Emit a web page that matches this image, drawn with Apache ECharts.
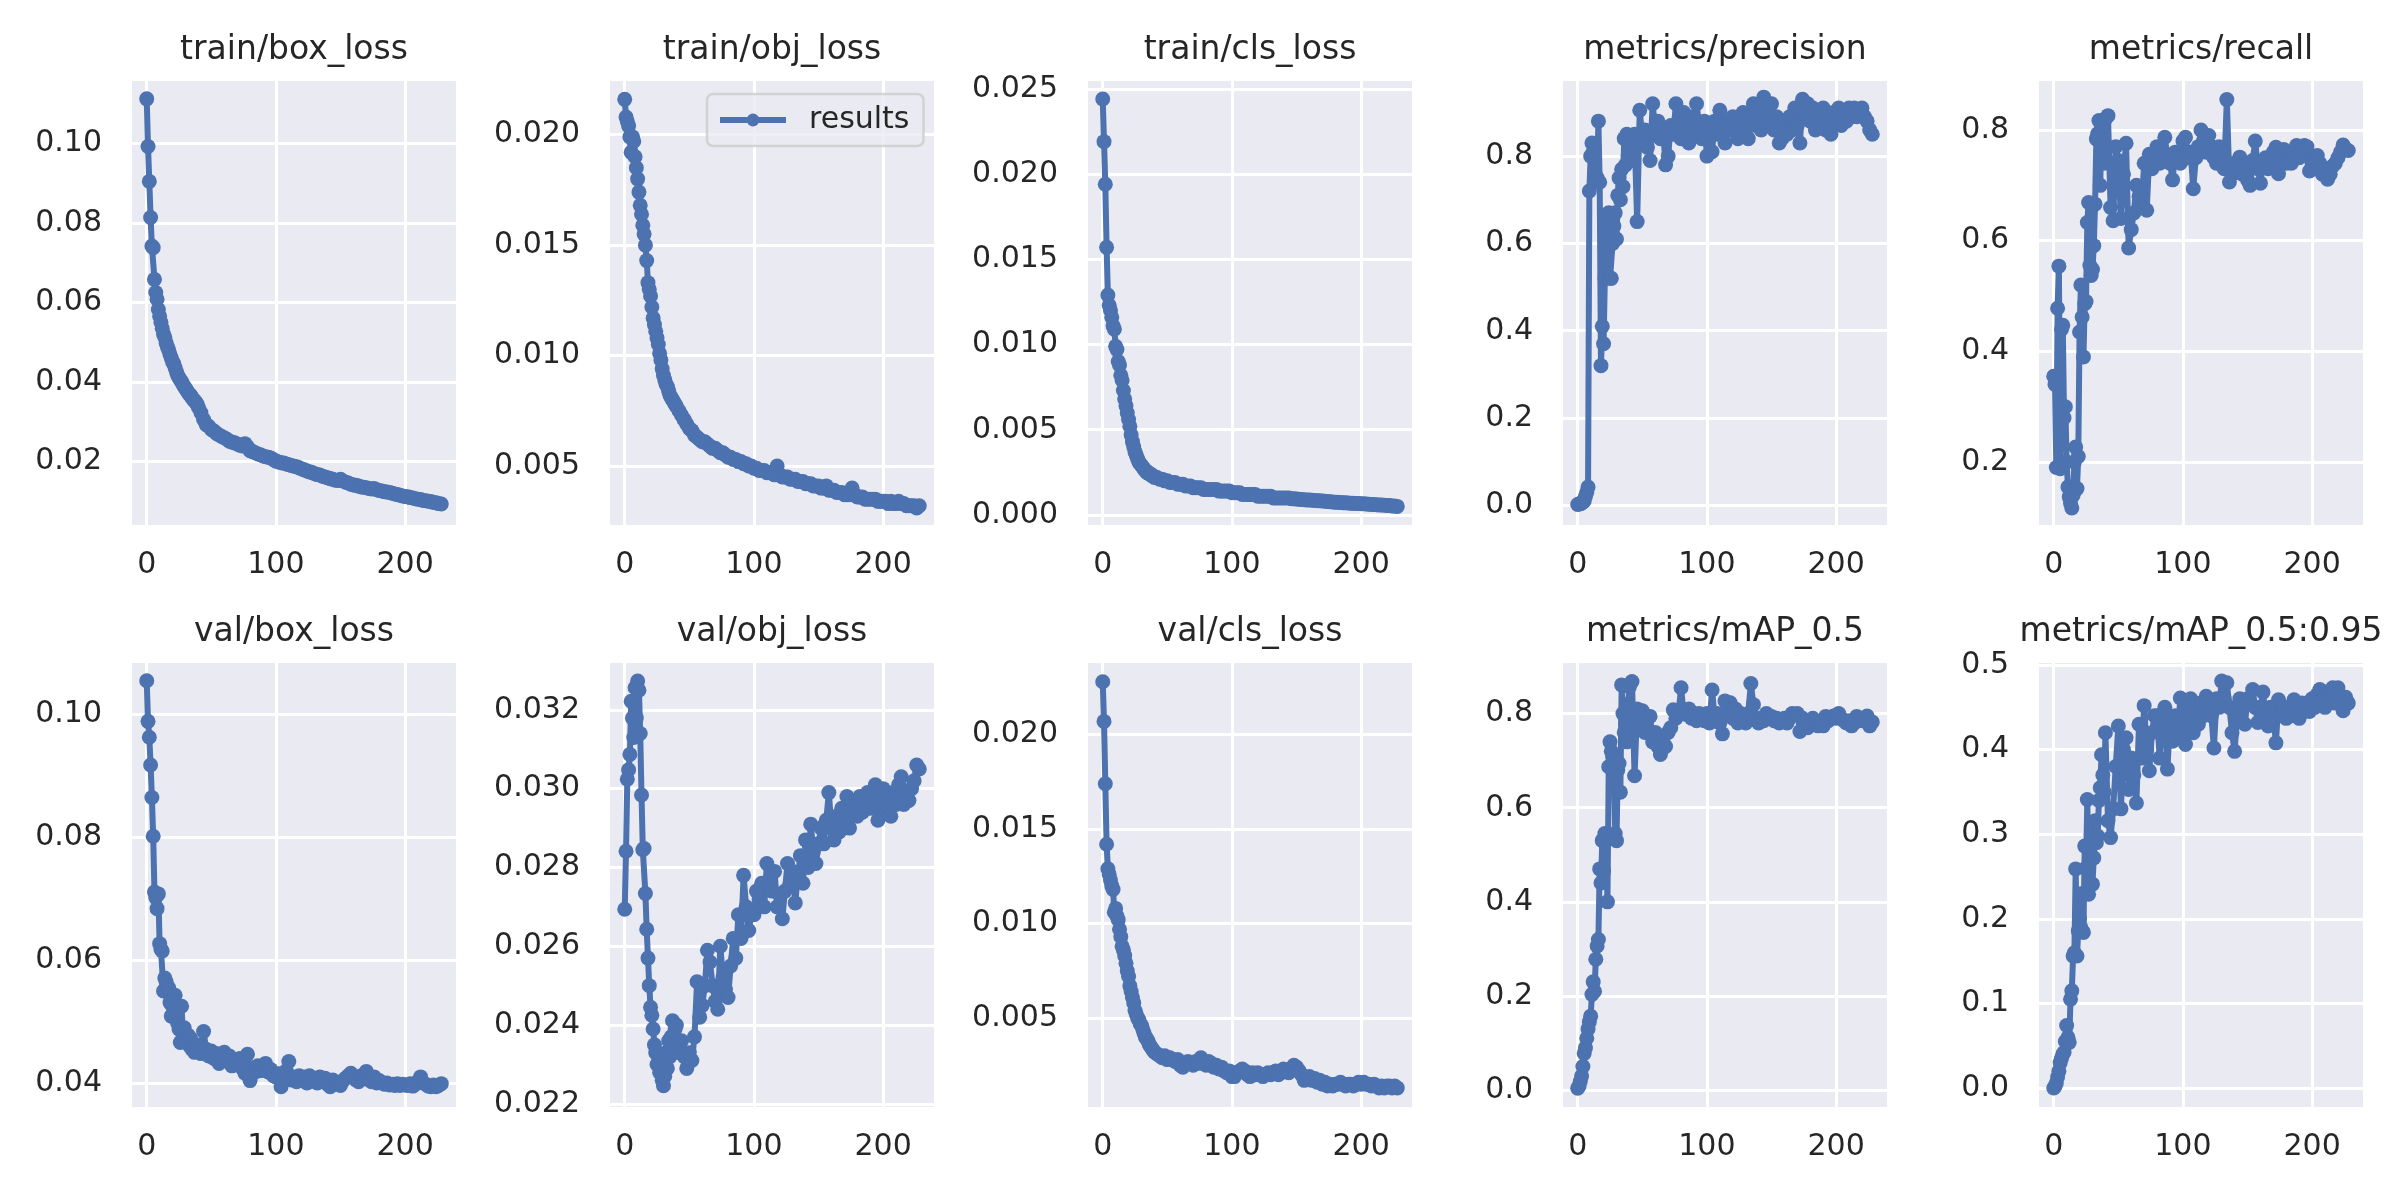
<!DOCTYPE html>
<html lang="en">
<head>
  <meta charset="UTF-8">
  <title>results</title>
  <script src="https://cdn.jsdelivr.net/npm/echarts@6/dist/echarts.min.js"></script>
  <style>html,body{margin:0;padding:0;background:#fff;}</style>
</head>
<body>
<!-- one container, ten small grids inside -->
<div id="box" style="width: 2400px;height: 1200px;"></div>
<script>
  // epochs: every epoch up to 39, then every second one
  var epochs = [0,1,2,3,4,5,6,7,8,9,
    10,11,12,13,14,15,16,17,18,19,
    20,21,22,23,24,25,26,27,28,29,
    30,31,32,33,34,35,36,37,38,39,
    40,42,44,46,48,50,52,54,56,58,
    60,62,64,66,68,70,72,74,76,78,
    80,82,84,86,88,90,92,94,96,98,
    100,102,104,106,108,110,112,114,116,118,
    120,122,124,126,128,130,132,134,136,138,
    140,142,144,146,148,150,152,154,156,158,
    160,162,164,166,168,170,172,174,176,178,
    180,182,184,186,188,190,192,194,196,198,
    200,202,204,206,208,210,212,214,216,218,
    220,222,224,226,228];

  var trainBox = [0.1113,0.0993,0.0905,0.0814,0.0742,0.0738,0.0658,0.0625,0.0608,0.0582,
    0.0565,0.0550,0.0535,0.0520,0.0512,0.0498,0.0488,0.0480,0.0469,0.0460,
    0.0450,0.0445,0.0435,0.0425,0.0416,0.0410,0.0405,0.0400,0.0393,0.0388,
    0.0383,0.0378,0.0373,0.0368,0.0366,0.0360,0.0355,0.0352,0.0348,0.0344,
    0.0335,0.0322,0.0305,0.0292,0.0288,0.0280,0.0276,0.0270,0.0266,0.0262,
    0.0259,0.0255,0.0250,0.0248,0.0246,0.0243,0.0240,0.0238,0.0244,0.0236,
    0.0226,0.0224,0.0221,0.0218,0.0216,0.0213,0.0211,0.0210,0.0208,0.0204,
    0.0200,0.0198,0.0196,0.0195,0.0193,0.0191,0.0189,0.0187,0.0186,0.0183,
    0.0180,0.0178,0.0175,0.0173,0.0171,0.0168,0.0166,0.0165,0.0162,0.0160,
    0.0158,0.0156,0.0154,0.0152,0.0151,0.0154,0.0150,0.0147,0.0145,0.0142,
    0.0140,0.0139,0.0137,0.0135,0.0134,0.0133,0.0131,0.0130,0.0131,0.0128,
    0.0126,0.0125,0.0123,0.0122,0.0121,0.0119,0.0117,0.0116,0.0114,0.0112,
    0.0111,0.0110,0.0108,0.0107,0.0105,0.0104,0.0103,0.0101,0.0100,0.0099,
    0.0098,0.0096,0.0095,0.0093,0.0092];

  var trainObj = [0.0216,0.0208,0.0206,0.0204,0.0199,0.0192,0.0199,0.0197,0.0190,0.0185,
    0.0180,0.0174,0.0168,0.0164,0.0159,0.0155,0.0150,0.0143,0.0133,0.0130,
    0.0127,0.0122,0.0117,0.0114,0.0111,0.0108,0.0105,0.0101,0.0098,0.0094,
    0.0091,0.0089,0.0087,0.0086,0.0084,0.0082,0.0081,0.0080,0.0079,0.0078,
    0.0077,0.0075,0.0073,0.0071,0.0069,0.0067,0.0066,0.0064,0.0063,0.0062,
    0.0061,0.0061,0.0060,0.0059,0.0058,0.0058,0.0057,0.0056,0.0056,0.0055,
    0.0054,0.0054,0.0053,0.0053,0.0052,0.0052,0.0051,0.0051,0.0050,0.0050,
    0.0049,0.0049,0.0048,0.0048,0.0048,0.0047,0.0047,0.0047,0.0046,0.0050,
    0.0046,0.0045,0.0045,0.0045,0.0044,0.0044,0.0044,0.0043,0.0043,0.0043,
    0.0042,0.0042,0.0042,0.0041,0.0041,0.0041,0.0040,0.0040,0.0041,0.0039,
    0.0039,0.0039,0.0038,0.0038,0.0038,0.0037,0.0037,0.0037,0.0040,0.0037,
    0.0036,0.0036,0.0036,0.0035,0.0035,0.0035,0.0035,0.0035,0.0034,0.0034,
    0.0034,0.0034,0.0033,0.0034,0.0033,0.0033,0.0034,0.0033,0.0033,0.0032,
    0.0032,0.0032,0.0032,0.0031,0.0032];

  var trainCls = [0.0244,0.0219,0.0194,0.0157,0.0129,0.0123,0.0120,0.0116,0.0111,0.0109,
    0.0099,0.0097,0.0090,0.0088,0.0082,0.0079,0.0073,0.0068,0.0064,0.0060,
    0.0056,0.0052,0.0047,0.0043,0.0040,0.0037,0.0035,0.0033,0.0031,0.0030,
    0.0029,0.0028,0.0027,0.0026,0.0025,0.0025,0.0024,0.0024,0.0023,0.0023,
    0.0022,0.0022,0.0021,0.0021,0.0020,0.0020,0.0019,0.0019,0.0019,0.0018,
    0.0018,0.0018,0.0017,0.0017,0.0017,0.0016,0.0016,0.0016,0.0016,0.0015,
    0.0015,0.0015,0.0015,0.0015,0.0015,0.0014,0.0014,0.0014,0.0014,0.0014,
    0.0013,0.0013,0.0013,0.0013,0.0012,0.0012,0.0012,0.0012,0.0012,0.0012,
    0.0011,0.0011,0.0011,0.0011,0.0011,0.0011,0.0010,0.0010,0.0010,0.0010,
    0.0010,0.0010,0.0010,0.00095,0.00095,0.00093,0.00092,0.00090,0.00089,0.00088,
    0.00088,0.00086,0.00085,0.00084,0.00083,0.00082,0.00080,0.00079,0.00077,0.00076,
    0.00075,0.00074,0.00073,0.00072,0.00071,0.00070,0.00069,0.00068,0.00067,0.00067,
    0.00066,0.00065,0.00064,0.00063,0.00062,0.00061,0.00060,0.00059,0.00058,0.00057,
    0.00056,0.00055,0.00053,0.00052,0.00050];

  var precision = [0.002,0.003,0.004,0.005,0.008,0.010,0.020,0.030,0.042,0.720,
    0.800,0.830,0.810,0.760,0.740,0.750,0.880,0.740,0.320,0.410,
    0.370,0.520,0.650,0.610,0.670,0.520,0.520,0.600,0.640,0.670,
    0.610,0.710,0.750,0.700,0.770,0.730,0.840,0.780,0.850,0.800,
    0.830,0.790,0.850,0.650,0.905,0.840,0.860,0.820,0.790,0.920,
    0.860,0.880,0.840,0.860,0.780,0.800,0.870,0.850,0.920,0.880,
    0.840,0.900,0.860,0.830,0.890,0.850,0.920,0.870,0.840,0.880,
    0.800,0.860,0.810,0.880,0.850,0.905,0.870,0.830,0.880,0.860,
    0.890,0.860,0.840,0.880,0.900,0.860,0.840,0.900,0.920,0.870,
    0.900,0.860,0.935,0.900,0.880,0.920,0.860,0.890,0.830,0.840,
    0.880,0.850,0.890,0.860,0.910,0.870,0.830,0.930,0.900,0.920,
    0.880,0.910,0.860,0.900,0.870,0.910,0.860,0.890,0.850,0.900,
    0.880,0.910,0.870,0.900,0.880,0.910,0.890,0.910,0.890,0.900,
    0.910,0.890,0.880,0.860,0.850];

  var recall = [0.355,0.340,0.190,0.478,0.554,0.188,0.440,0.447,0.280,0.300,
    0.200,0.155,0.137,0.125,0.117,0.140,0.200,0.227,0.152,0.210,
    0.435,0.520,0.462,0.390,0.486,0.490,0.633,0.669,0.555,0.537,
    0.548,0.591,0.666,0.784,0.793,0.817,0.700,0.805,0.760,0.740,
    0.820,0.826,0.660,0.636,0.770,0.745,0.640,0.720,0.776,0.587,
    0.620,0.650,0.700,0.680,0.660,0.740,0.655,0.756,0.730,0.750,
    0.770,0.740,0.760,0.787,0.750,0.740,0.710,0.760,0.750,0.740,
    0.780,0.787,0.750,0.760,0.694,0.750,0.770,0.800,0.780,0.760,
    0.790,0.770,0.750,0.740,0.770,0.760,0.730,0.855,0.706,0.720,
    0.740,0.730,0.751,0.720,0.740,0.710,0.700,0.745,0.780,0.730,
    0.704,0.740,0.750,0.730,0.740,0.760,0.769,0.721,0.750,0.765,
    0.740,0.750,0.740,0.760,0.772,0.750,0.760,0.772,0.770,0.726,
    0.740,0.750,0.754,0.740,0.720,0.730,0.711,0.720,0.735,0.740,
    0.750,0.760,0.773,0.765,0.763];

  var valBox = [0.1055,0.0989,0.0963,0.0918,0.0865,0.0802,0.0711,0.0702,0.0684,0.0708,
    0.0627,0.0618,0.0615,0.0550,0.0571,0.0565,0.0548,0.0555,0.0531,0.0509,
    0.0525,0.0512,0.0543,0.0503,0.0497,0.0488,0.0466,0.0525,0.0478,0.0490,
    0.0472,0.0468,0.0478,0.0461,0.0473,0.0455,0.0464,0.0450,0.0458,0.0452,
    0.0462,0.0448,0.0484,0.0455,0.0444,0.0452,0.0440,0.0448,0.0432,0.0445,
    0.0450,0.0436,0.0444,0.0428,0.0438,0.0430,0.0440,0.0424,0.0416,0.0447,
    0.0404,0.0425,0.0418,0.0428,0.0420,0.0426,0.0432,0.0418,0.0422,0.0412,
    0.0410,0.0415,0.0394,0.0408,0.0420,0.0435,0.0405,0.0410,0.0402,0.0412,
    0.0405,0.0410,0.0400,0.0412,0.0404,0.0408,0.0400,0.0410,0.0403,0.0408,
    0.0398,0.0394,0.0405,0.0398,0.0400,0.0396,0.0404,0.0408,0.0412,0.0416,
    0.0410,0.0405,0.0402,0.0412,0.0408,0.0419,0.0405,0.0402,0.0410,0.0400,
    0.0404,0.0400,0.0398,0.0400,0.0397,0.0398,0.0396,0.0399,0.0396,0.0398,
    0.0397,0.0396,0.0399,0.0395,0.0398,0.0403,0.0410,0.0400,0.0398,0.0395,
    0.0394,0.0397,0.0394,0.0396,0.0399];

  var valObj = [0.02694,0.02841,0.03024,0.03048,0.03087,0.03222,0.03179,0.03130,0.03256,0.03180,
    0.03273,0.03250,0.03140,0.02984,0.02845,0.02848,0.02734,0.02643,0.02570,0.02500,
    0.02445,0.02425,0.02390,0.02350,0.02330,0.02300,0.02320,0.02280,0.02300,0.02260,
    0.02246,0.02270,0.02330,0.02290,0.02360,0.02320,0.02370,0.02411,0.02350,0.02390,
    0.0240,0.0233,0.0236,0.0232,0.0229,0.0233,0.0231,0.0237,0.0251,0.0242,
    0.0245,0.0250,0.0259,0.0256,0.0250,0.0246,0.0244,0.0260,0.0252,0.0249,
    0.0247,0.0255,0.0262,0.0257,0.0268,0.0262,0.0278,0.0270,0.0264,0.0268,
    0.0268,0.0274,0.0272,0.0276,0.0270,0.0281,0.0276,0.0274,0.0279,0.0270,
    0.0273,0.0267,0.0274,0.0281,0.0276,0.0279,0.0271,0.0278,0.0283,0.0276,
    0.0287,0.0280,0.0291,0.0284,0.0281,0.0286,0.0290,0.0286,0.0292,0.0299,
    0.0290,0.0287,0.0293,0.0289,0.0295,0.0291,0.0298,0.0290,0.0294,0.0297,
    0.0293,0.0298,0.0294,0.0296,0.0299,0.0295,0.0298,0.0301,0.0292,0.0296,
    0.0300,0.0295,0.0299,0.0293,0.0298,0.0296,0.0301,0.0303,0.0296,0.0299,
    0.0297,0.0300,0.0302,0.0306,0.0305];

  var valCls = [0.0228,0.0207,0.0174,0.0142,0.0129,0.0126,0.0123,0.0120,0.0118,0.0106,
    0.0108,0.0104,0.0102,0.0097,0.0093,0.0088,0.0086,0.0083,0.0079,0.0075,
    0.0072,0.0067,0.0064,0.0061,0.0058,0.0054,0.0052,0.0050,0.0049,0.0047,
    0.0046,0.0044,0.0042,0.0040,0.0039,0.0038,0.0036,0.0035,0.0034,0.0033,
    0.0032,0.0031,0.0030,0.0029,0.0030,0.0028,0.0029,0.0028,0.0027,0.0028,
    0.0025,0.0024,0.0026,0.0027,0.0026,0.0025,0.0027,0.0026,0.0029,0.0026,
    0.0025,0.0027,0.0026,0.0024,0.0025,0.0023,0.0024,0.0022,0.0021,0.0022,
    0.0019,0.0019,0.0021,0.0022,0.0023,0.0022,0.0020,0.0019,0.0021,0.0020,
    0.0021,0.0020,0.0019,0.0020,0.0021,0.0020,0.0021,0.0022,0.0020,0.0021,
    0.0023,0.0022,0.0021,0.0023,0.0025,0.0024,0.0022,0.0020,0.0017,0.0018,
    0.0019,0.0017,0.0018,0.0016,0.0017,0.0015,0.0016,0.0014,0.0015,0.0014,
    0.0015,0.0015,0.0016,0.0015,0.0014,0.0015,0.0015,0.0014,0.0015,0.0016,
    0.0015,0.0016,0.0015,0.0015,0.0014,0.0015,0.0014,0.0013,0.0014,0.0013,
    0.0014,0.0014,0.0013,0.0014,0.0013];

  var map50 = [0.004,0.008,0.018,0.030,0.050,0.078,0.090,0.110,0.130,0.145,
    0.157,0.203,0.230,0.210,0.278,0.306,0.320,0.470,0.440,0.530,
    0.466,0.545,0.540,0.400,0.687,0.740,0.720,0.708,0.690,0.545,
    0.530,0.680,0.694,0.633,0.861,0.800,0.760,0.780,0.740,0.820,
    0.857,0.868,0.668,0.810,0.770,0.806,0.760,0.790,0.794,0.740,
    0.760,0.730,0.713,0.740,0.730,0.760,0.770,0.808,0.790,0.800,
    0.855,0.800,0.798,0.810,0.790,0.800,0.785,0.800,0.790,0.785,
    0.800,0.780,0.850,0.790,0.800,0.780,0.757,0.827,0.800,0.823,
    0.790,0.810,0.780,0.800,0.790,0.780,0.800,0.864,0.819,0.790,
    0.780,0.790,0.785,0.800,0.790,0.794,0.785,0.790,0.780,0.785,
    0.790,0.780,0.790,0.800,0.798,0.800,0.762,0.790,0.785,0.770,
    0.780,0.790,0.785,0.774,0.780,0.774,0.794,0.785,0.790,0.795,
    0.790,0.800,0.790,0.785,0.780,0.785,0.774,0.780,0.794,0.790,
    0.785,0.790,0.795,0.774,0.782];

  var map5095 = [0.000,0.002,0.006,0.013,0.020,0.030,0.035,0.040,0.042,0.055,
    0.074,0.060,0.054,0.105,0.115,0.156,0.160,0.259,0.156,0.186,
    0.200,0.190,0.230,0.184,0.286,0.260,0.341,0.229,0.280,0.300,
    0.241,0.272,0.316,0.290,0.298,0.340,0.355,0.394,0.370,0.350,
    0.420,0.316,0.296,0.330,0.380,0.428,0.330,0.400,0.414,0.353,
    0.390,0.370,0.337,0.430,0.390,0.452,0.400,0.375,0.420,0.440,
    0.440,0.390,0.430,0.450,0.377,0.434,0.410,0.440,0.420,0.461,
    0.430,0.406,0.450,0.460,0.420,0.450,0.430,0.455,0.440,0.463,
    0.450,0.440,0.402,0.460,0.450,0.481,0.460,0.479,0.450,0.420,
    0.398,0.440,0.460,0.450,0.430,0.460,0.455,0.471,0.450,0.432,
    0.450,0.468,0.440,0.428,0.450,0.440,0.408,0.459,0.440,0.450,
    0.437,0.450,0.440,0.459,0.450,0.437,0.455,0.450,0.455,0.445,
    0.460,0.450,0.465,0.471,0.460,0.450,0.468,0.460,0.473,0.455,
    0.473,0.462,0.446,0.462,0.455];

  var titles = ['train/box_loss', 'train/obj_loss', 'train/cls_loss', 'metrics/precision', 'metrics/recall',
    'val/box_loss', 'val/obj_loss', 'val/cls_loss', 'metrics/mAP_0.5', 'metrics/mAP_0.5:0.95'];

  // y axis extents, tick step and label decimals per panel
  var yMin = [0.0039, 0.00233, -0.00059, -0.045, 0.0862, 0.0361, 0.02192, 0.00029, -0.036, -0.0224];
  var yMax = [0.1158, 0.02243, 0.02546, 0.972, 0.8886, 0.1084, 0.03319, 0.02379, 0.9075, 0.5024];
  var yStep = [0.02, 0.005, 0.005, 0.2, 0.2, 0.02, 0.002, 0.005, 0.2, 0.1];
  var yDigits = [2, 3, 3, 1, 1, 2, 3, 3, 1, 1];
  var xMin = -11.4, xMax = 239.4, xStep = 100;

  var seriesValues = [trainBox, trainObj, trainCls, precision, recall, valBox, valObj, valCls, map50, map5095];

  var font = "'DejaVu Sans', sans-serif";
  var ink = '#262626';
  var blue = '#4C72B0';
  var colLeft = [132, 610, 1088, 1563, 2039];
  var rowTop = [81, 663];
  var titleTop = [34, 616];
  var plotW = 324, plotH = 444;

  function fmt(d) { return function (v) { return v.toFixed(d); }; }

  var grids = [], xAxes = [], yAxes = [], series = [], titleList = [];
  for (var i = 0; i < 10; i++) {
    var col = i % 5, row = Math.floor(i / 5);
    grids.push({
      left: colLeft[col], top: rowTop[row], width: plotW, height: plotH,
      show: true, backgroundColor: '#EAEAF2', borderWidth: 0,
      containLabel: false, outerBoundsMode: 'none'
    });
    xAxes.push({
      type: 'value', gridIndex: i, min: xMin, max: xMax,
      minInterval: xStep, maxInterval: xStep,
      axisLine: {show: false}, axisTick: {show: false},
      axisLabel: {margin: 25, fontSize: 30, fontFamily: font, color: ink, showMinLabel: false, showMaxLabel: false},
      splitLine: {show: true, showMinLine: false, showMaxLine: false, lineStyle: {color: '#ffffff', width: 3}}
    });
    yAxes.push({
      type: 'value', gridIndex: i, min: yMin[i], max: yMax[i],
      minInterval: yStep[i], maxInterval: yStep[i],
      axisLine: {show: false}, axisTick: {show: false},
      axisLabel: {margin: 30, fontSize: 30, fontFamily: font, color: ink, showMinLabel: false, showMaxLabel: false,
        formatter: fmt(yDigits[i])},
      splitLine: {show: true, showMinLine: false, showMaxLine: false, lineStyle: {color: '#ffffff', width: 3}}
    });
    var vals = seriesValues[i];
    series.push({
      name: 'results', type: 'line', xAxisIndex: i, yAxisIndex: i,
      data: epochs.map(function (e, k) { return [e, vals[k]]; }),
      symbol: 'circle', symbolSize: 15, showAllSymbol: true,
      lineStyle: {width: 6, color: blue},
      itemStyle: {color: blue},
      emphasis: {disabled: true},
      animation: false
    });
    titleList.push({
      text: titles[i], left: colLeft[col] + plotW / 2, top: titleTop[row],
      textAlign: 'center', padding: 0,
      textStyle: {fontSize: 33, fontWeight: 'normal', fontFamily: font, color: ink}
    });
  }

  var myChart = echarts.init(document.getElementById('box'));
  myChart.setOption({
    backgroundColor: '#ffffff',
    animation: false,
    title: titleList,
    // legend only sits in the second panel, like the original
    legend: {
      data: ['results'], left: 707, top: 94,
      padding: [11, 14, 11, 10],
      itemWidth: 66, itemHeight: 16,
      backgroundColor: 'rgba(234,234,242,0.8)',
      borderColor: 'rgba(204,204,204,0.8)', borderWidth: 2.5, borderRadius: 6,
      lineStyle: {width: 6},
      textStyle: {fontSize: 30, fontFamily: font, color: ink, padding: [0, 0, 0, 18]}
    },
    grid: grids,
    xAxis: xAxes,
    yAxis: yAxes,
    series: series
  });
</script>
</body>
</html>
